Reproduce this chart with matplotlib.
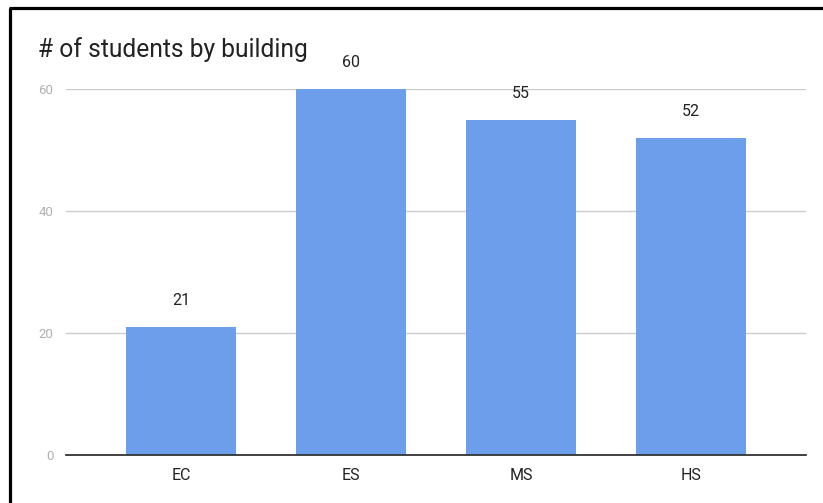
import matplotlib.pyplot as plt
from matplotlib.lines import Line2D

buildings = ['EC', 'ES', 'MS', 'HS']
students = [21, 60, 55, 52]
yticks = [0, 20, 40, 60]

dpi = 100
W, H = 823, 503
plt.rcParams['font.family'] = ['Roboto', 'DejaVu Sans']

fig = plt.figure(figsize=(W / dpi, H / dpi), dpi=dpi)
fig.patch.set_facecolor('white')
fig.patch.set_linewidth(0)
ax = fig.add_axes([66 / W, 1 - 455 / H, (806 - 66) / W, (455 - 89) / H])

x = range(len(buildings))
ax.bar(x, students, width=0.647, color='#6d9eeb', zorder=3, clip_on=False)

for xi, v in zip(x, students):
    ax.annotate(str(v), (xi, v), xytext=(0, 19), textcoords='offset points',
                ha='center', va='center', fontsize=11.5, color='#222222',
                annotation_clip=False)

ax.set_xlim(-0.676, 3.676)
ax.set_ylim(0, 60)
ax.set_yticks(yticks)
ax.set_xticks(list(x))
ax.set_xticklabels(buildings, fontsize=11.5, color='#222222')
ax.tick_params(axis='y', length=0, pad=9, labelsize=9.5, labelcolor='#b0b0b0')
ax.tick_params(axis='x', length=0, pad=9)
ax.grid(axis='y', color='#cccccc', lw=1, zorder=0)
for s in ['top', 'right', 'left']:
    ax.spines[s].set_visible(False)
ax.spines['bottom'].set_color('#333333')
ax.spines['bottom'].set_linewidth(1.3)
ax.spines['bottom'].set_zorder(4)

fig.text(38 / W, 1 - 50 / H, '# of students by building', fontsize=17.7,
         color='#222222', ha='left', va='center')

# frame edges along the top and left
fig.add_artist(Line2D([9 / W, 1.01], [1 - 8 / H, 1 - 8 / H], color='black',
                      lw=2.3, solid_capstyle='butt'))
fig.add_artist(Line2D([10 / W, 10 / W], [-0.01, 1 - 8 / H], color='black',
                      lw=2.3, solid_capstyle='butt'))

fig.savefig('out.png', dpi=dpi)
